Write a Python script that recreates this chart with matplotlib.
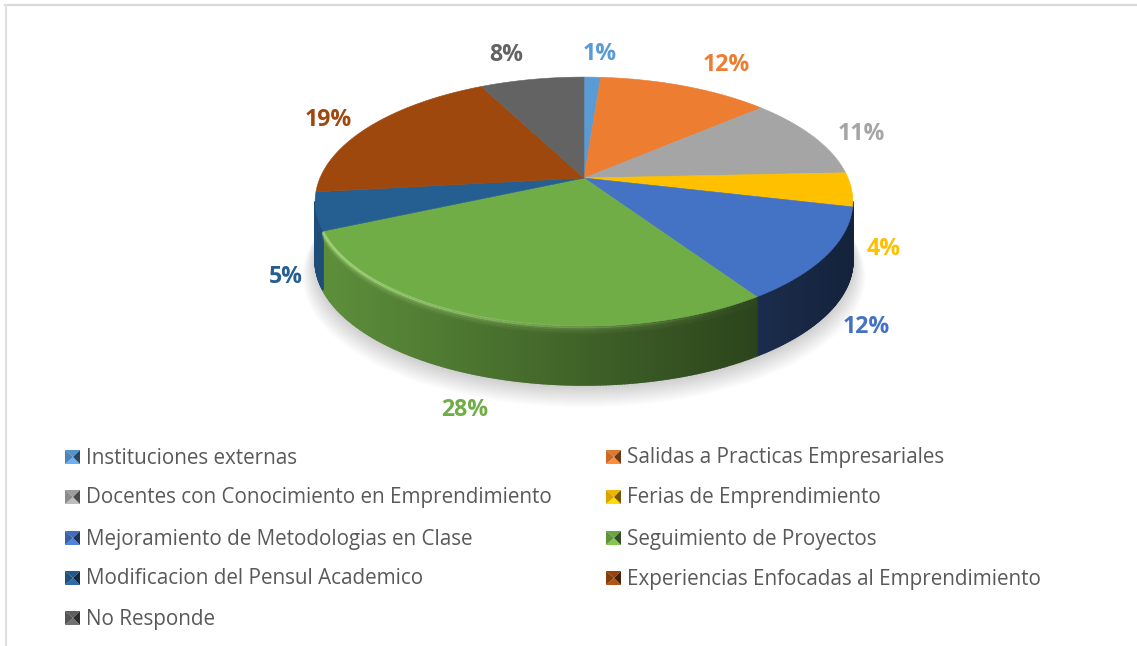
import numpy as np
import matplotlib
matplotlib.use('Agg')
import matplotlib.pyplot as plt

categories = ['Instituciones externas', 'Salidas a Practicas Empresariales',
              'Docentes con Conocimiento en Emprendimiento', 'Ferias de Emprendimiento',
              'Mejoramiento de Metodologias en Clase', 'Seguimiento de Proyectos',
              'Modificacion del Pensul Academico', 'Experiencias Enfocadas al Emprendimiento',
              'No Responde']
values = [1.2, 12.4, 10.7, 4.4, 12.0, 27.6, 4.9, 19.3, 7.5]
colors = ['#5B9BD5', '#ED7D31', '#A5A5A5', '#FFC000', '#4472C4',
          '#70AD47', '#255E91', '#9E480E', '#636363']
# where Word put the labels, pixels
label_pos = [(600, 54), (726, 65), (861, 134), (884, 249), (866, 327),
             (465, 410), (286, 277), (328, 120), (506, 55)]

plt.rcParams['font.family'] = ['Open Sans', 'DejaVu Sans']

fig = plt.figure(figsize=(11.37, 6.46), dpi=100, facecolor='w')
ax = fig.add_axes([0, 0, 1, 1])
ax.set_xlim(0, 1137)
ax.set_ylim(646, 0)
ax.axis('off')

# pie geometry, perspective disc
cx, cy = 584, 178
a, b, k = 264, 120, 0.189
depth = 59


def project(ang, r=1.0):
    # ang clockwise from 12 o'clock, radians
    u = r * np.sin(ang)
    v = r * np.cos(ang)
    w = 1 + k * v
    return cx + a * u / w, cy - b * v / w


def shade(col, f):
    c = np.array(matplotlib.colors.to_rgb(col))
    return tuple(np.clip(c * f, 0, 1))


# frame
ax.plot([5, 1137], [5, 5], color='#d9d9d9', lw=1.6)
ax.plot([6, 6], [5, 646], color='#e2e2e2', lw=1.6)

# soft shadow
t = np.linspace(0, 2 * np.pi, 240)
for i in range(16):
    x, y = project(t, 1.0 + i * 0.003)
    ax.fill(x, y + depth + 2 + i * 0.8, color='k', alpha=0.011, lw=0, zorder=1)

edges = np.cumsum([0] + values) / 100 * 2 * np.pi

# side wall, only the part that faces the viewer
for i, col in enumerate(colors):
    n = max(int((edges[i + 1] - edges[i]) * 120), 2)
    th = np.linspace(edges[i], edges[i + 1], n + 1)
    for j in range(n):
        if np.cos((th[j] + th[j + 1]) / 2) > -k:
            continue
        xa, ya = project(th[j:j + 2])
        pos = (xa.mean() - 330) / 520
        f = 0.82 - 0.52 * np.clip(pos, 0, 1)
        ax.fill([xa[0], xa[1], xa[1], xa[0]], [ya[0], ya[1], ya[1] + depth, ya[0] + depth],
                color=shade(col, f), lw=1.2, zorder=2)

# top faces
for i, col in enumerate(colors):
    th = np.linspace(edges[i], edges[i + 1], 80)
    x, y = project(th)
    ax.fill(np.r_[cx, x], np.r_[cy, y], color=col, lw=0.4, zorder=3)

# bevel on green front rim, bright line fading down the wall
th = np.linspace(edges[5], edges[6], 120)
for off, al in [(1, 0.8), (2.5, 0.35), (4.5, 0.18), (6.5, 0.08)]:
    for j in range(len(th) - 1):
        xa, ya = project(th[j:j + 2])
        s = 1 - np.clip((xa.mean() - 340) / 400, 0, 1)
        ax.plot(xa, ya + off, color='#a8d880', alpha=al * s + 0.02, lw=2, zorder=4,
                solid_capstyle='butt')

# percent labels
for v, col, (lx, ly) in zip(values, colors, label_pos):
    ax.text(lx, ly, f'{round(v)}%', color=col, fontsize=16.7, fontweight='bold',
            ha='center', va='center', zorder=5)

# legend, two columns, bevelled square keys
col_x = [65, 606]
row_y = [457, 497, 538, 578, 618]
for i, (name, col) in enumerate(zip(categories, colors)):
    lx = col_x[i % 2]
    ly = row_y[i // 2]
    l, r, tp, bt = lx, lx + 15, ly - 7, ly + 7
    mx, my = lx + 8, ly
    ax.fill([l, r, mx], [tp, tp, my], color=shade(col, 0.95), lw=0, zorder=5)
    ax.fill([l, r, mx], [bt, bt, my], color=shade(col, 1.15), lw=0, zorder=5)
    ax.fill([l, l, mx], [tp, bt, my], color=shade(col, 0.85), lw=0, zorder=5)
    ax.fill([r, r, mx], [tp, bt, my], color=shade(col, 0.45), lw=0, zorder=5)
    ax.text(lx + 21, ly + 1, name, color='#595959', fontsize=14.9, ha='left', va='center', zorder=5)

fig.savefig('out.png', dpi=100)
